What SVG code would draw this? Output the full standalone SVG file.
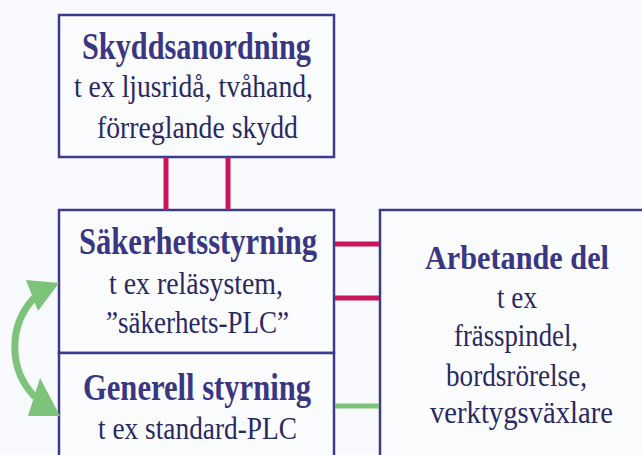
<svg xmlns="http://www.w3.org/2000/svg" width="642" height="455" viewBox="0 0 642 455">
<defs>
<style>
.box{fill:#fbfcfe;stroke:#3c3a8a;stroke-width:2.5}
.edge{fill:none;stroke:#3c3a8a;stroke-width:2.5}
.h{font-family:'Liberation Serif', serif;font-weight:700;fill:#3a3682;text-anchor:middle}
.b{font-family:'Liberation Serif', serif;fill:#2a2862;text-anchor:middle}
.red{stroke:#c8155c;stroke-width:5;fill:none}
.grn{stroke:#7dc47a;stroke-width:5;fill:none}
</style>
</defs>
<rect width="642" height="455" fill="#f8fafd"/>
<g id="skyddsanordning">
<rect class="box" x="59" y="15" width="275" height="142"/>
<text class="h" font-size="37" x="196.5" y="59" textLength="229" lengthAdjust="spacingAndGlyphs">Skyddsanordning</text>
<text class="b" font-size="31" x="193.5" y="97" textLength="239" lengthAdjust="spacingAndGlyphs">t ex ljusridå, tvåhand,</text>
<text class="b" font-size="31" x="197.5" y="138" textLength="201" lengthAdjust="spacingAndGlyphs">förreglande skydd</text>
</g>
<g id="sakerhetsstyrning">
<rect class="box" x="59" y="210" width="275" height="143"/>
<text class="h" font-size="37" x="198" y="254" textLength="238" lengthAdjust="spacingAndGlyphs">Säkerhetsstyrning</text>
<text class="b" font-size="31" x="196" y="294" textLength="174" lengthAdjust="spacingAndGlyphs">t ex reläsystem,</text>
<text class="b" font-size="31" x="197.5" y="333" textLength="183" lengthAdjust="spacingAndGlyphs">”säkerhets-PLC”</text>
</g>
<g id="generell-styrning">
<path class="box" d="M59,455 V353 H334 V455"/>
<text class="h" font-size="37" x="197" y="400" textLength="228" lengthAdjust="spacingAndGlyphs">Generell styrning</text>
<text class="b" font-size="31" x="197.5" y="439" textLength="199" lengthAdjust="spacingAndGlyphs">t ex standard-PLC</text>
</g>
<g id="arbetande-del">
<rect x="380" y="210" width="262" height="245" fill="#fbfcfe"/>
<path class="edge" d="M642,210 H380 V455"/>
<text class="h" font-size="34" x="517" y="269" textLength="184" lengthAdjust="spacingAndGlyphs">Arbetande del</text>
<text class="b" font-size="31" x="517" y="308" textLength="40" lengthAdjust="spacingAndGlyphs">t ex</text>
<text class="b" font-size="31" x="516" y="346" textLength="124" lengthAdjust="spacingAndGlyphs">frässpindel,</text>
<text class="b" font-size="31" x="516.5" y="386" textLength="141" lengthAdjust="spacingAndGlyphs">bordsrörelse,</text>
<text class="b" font-size="31" x="521.5" y="423" textLength="183" lengthAdjust="spacingAndGlyphs">verktygsväxlare</text>
</g>
<g id="connectors">
<line class="red" x1="166" y1="157" x2="166" y2="210"/>
<line class="red" x1="228" y1="157" x2="228" y2="210"/>
<line class="red" x1="335" y1="244" x2="379" y2="244"/>
<line class="red" x1="335" y1="298" x2="379" y2="298"/>
<line class="grn" x1="335" y1="406" x2="379" y2="406"/>
<path d="M34,298 A72,72 0 0 0 35,397" stroke="#7dc47a" stroke-width="7" fill="none"/>
<polygon points="26,280 59,283 38,311" fill="#7dc47a"/>
<polygon points="28,416 60,416 40,378" fill="#7dc47a"/>
</g>
</svg>
